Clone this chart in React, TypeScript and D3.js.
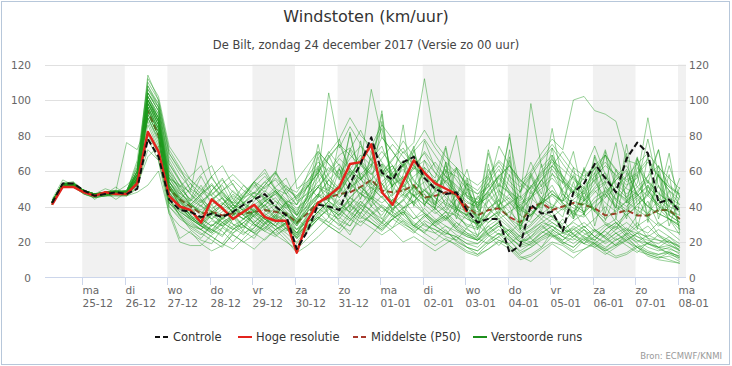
import * as d3 from 'd3';

// tick labels (Dutch weekdays + dates)
const dayNames = ['ma', 'di', 'wo', 'do', 'vr', 'za', 'zo', 'ma', 'di', 'wo', 'do', 'vr', 'za', 'zo', 'ma'];
const dayDates = ['25-12', '26-12', '27-12', '28-12', '29-12', '30-12', '31-12', '01-01', '02-01', '03-01', '04-01', '05-01', '06-01', '07-01', '08-01'];
const yTickValues = [0, 20, 40, 60, 80, 100, 120];
const legendNames = ['Controle', 'Hoge resolutie', 'Middelste (P50)', 'Verstoorde runs'];

// 6-hourly gusts (km/h) from run 24-12 00 UTC, step +6h .. +360h
const controle = [
  42, 53, 53, 49, 46, 47, 48, 47, 50, 78,
  68, 44, 38, 37, 34, 36, 34, 37, 41, 44,
  47, 40, 35, 16, 26, 41, 40, 38, 53, 64,
  79, 59, 55, 65, 68, 56, 50, 47, 48, 38,
  31, 33, 33, 14, 18, 41, 36, 37, 26, 48,
  53, 64, 56, 48, 67, 76, 70, 42, 44, 37,
];

const hogeResolutie = [
  41, 51, 51, 48, 46, 48, 47, 47, 53, 82,
  71, 46, 40, 38, 31, 44, 39, 33, 37, 41,
  34, 32, 32, 14, 32, 42, 46, 51, 64, 65,
  75, 48, 41, 54, 66, 59, 53, 50, 47, 37,
];

const middelste = [
  42, 52, 52, 48, 47, 47, 48, 48, 54, 94,
  80, 50, 44, 40, 36, 37, 35, 36, 36, 37,
  38, 37, 36, 31, 36, 42, 45, 47, 48, 51,
  55, 49, 48, 49, 52, 45, 46, 48, 47, 40,
  35, 38, 39, 34, 31, 39, 42, 38, 40, 42,
  41, 39, 35, 36, 38, 35, 35, 38, 38, 33,
];

const verstoordeRuns = [
  [43, 53, 53, 49, 47, 48, 49, 48, 56, 98, 88, 46, 40, 34, 30, 38, 45, 36, 29, 35, 41, 33, 30, 24, 33, 46, 55, 48, 60, 52, 44, 58, 63, 50, 41, 47, 39, 33, 44, 37, 28, 35, 47, 40, 27, 33, 45, 52, 41, 36, 48, 38, 30, 27, 38, 45, 34, 29, 33, 24],
  [43, 52, 51, 48, 46, 47, 48, 48, 58, 104, 94, 54, 47, 43, 52, 41, 33, 38, 46, 54, 44, 37, 42, 30, 41, 62, 47, 78, 58, 44, 70, 84, 55, 46, 72, 51, 42, 55, 47, 38, 45, 53, 40, 34, 49, 58, 44, 39, 50, 57, 45, 38, 47, 55, 61, 46, 40, 52, 39, 31],
  [41, 51, 52, 47, 45, 46, 47, 46, 52, 92, 80, 42, 35, 27, 22, 30, 26, 20, 27, 36, 31, 24, 28, 19, 26, 33, 40, 31, 24, 36, 45, 33, 28, 37, 30, 25, 32, 26, 21, 28, 34, 24, 18, 25, 31, 22, 17, 26, 33, 24, 19, 27, 23, 18, 25, 31, 22, 17, 21, 15],
  [42, 53, 54, 49, 47, 48, 48, 47, 60, 108, 96, 64, 55, 47, 40, 49, 56, 44, 37, 45, 52, 60, 49, 41, 58, 71, 64, 55, 72, 83, 70, 59, 66, 77, 68, 57, 51, 63, 55, 46, 42, 53, 61, 48, 44, 98, 62, 69, 57, 48, 61, 54, 45, 57, 63, 51, 46, 58, 49, 41],
  [44, 55, 52, 48, 46, 47, 47, 47, 54, 86, 72, 40, 33, 29, 27, 36, 40, 30, 28, 38, 33, 27, 31, 22, 30, 37, 43, 51, 41, 36, 47, 53, 42, 35, 49, 54, 45, 38, 47, 34, 30, 39, 44, 33, 29, 36, 43, 34, 30, 38, 28, 33, 40, 31, 26, 35, 43, 30, 27, 25],
  [42, 52, 53, 48, 46, 48, 49, 49, 62, 100, 90, 56, 51, 44, 57, 46, 38, 43, 52, 45, 40, 49, 42, 36, 52, 60, 68, 75, 61, 55, 67, 74, 58, 51, 63, 70, 59, 50, 46, 56, 40, 48, 58, 52, 45, 51, 60, 67, 55, 47, 60, 74, 58, 44, 51, 68, 47, 41, 63, 45],
  [43, 53, 52, 48, 47, 48, 48, 48, 57, 96, 86, 50, 43, 35, 31, 27, 23, 33, 38, 30, 27, 35, 42, 31, 37, 58, 34, 49, 72, 57, 40, 63, 36, 58, 74, 40, 55, 40, 62, 36, 23, 44, 35, 58, 29, 41, 64, 37, 26, 32, 36, 27, 23, 30, 36, 28, 25, 31, 26, 21],
  [41, 51, 51, 47, 45, 46, 46, 46, 50, 78, 66, 36, 29, 25, 21, 19, 28, 34, 26, 22, 31, 38, 33, 25, 35, 41, 47, 38, 33, 43, 37, 30, 38, 44, 36, 29, 27, 24, 31, 25, 21, 26, 32, 22, 18, 23, 30, 24, 19, 23, 27, 19, 16, 22, 18, 14, 20, 17, 13, 11],
  [42, 52, 52, 48, 46, 47, 48, 48, 55, 102, 92, 58, 49, 41, 35, 44, 48, 39, 46, 52, 43, 40, 50, 45, 53, 61, 52, 47, 58, 66, 59, 50, 57, 65, 54, 49, 55, 45, 40, 37, 35, 70, 49, 42, 37, 45, 50, 56, 49, 43, 41, 48, 53, 43, 38, 62, 54, 45, 70, 35],
  [43, 52, 53, 49, 47, 50, 48, 48, 64, 90, 76, 50, 45, 40, 46, 37, 33, 39, 45, 48, 39, 34, 43, 35, 45, 51, 44, 53, 60, 49, 45, 54, 59, 48, 42, 50, 41, 60, 33, 50, 27, 47, 39, 66, 27, 45, 39, 59, 48, 34, 62, 29, 51, 39, 70, 27, 52, 37, 58, 25],
  [42, 52, 52, 48, 46, 47, 47, 48, 56, 94, 84, 52, 44, 35, 29, 26, 31, 35, 39, 32, 28, 33, 36, 29, 37, 43, 36, 33, 41, 48, 40, 35, 44, 38, 33, 39, 33, 29, 26, 23, 21, 27, 31, 24, 20, 25, 29, 24, 21, 27, 23, 21, 27, 31, 24, 21, 19, 24, 21, 17],
  [43, 53, 53, 49, 47, 47, 48, 49, 58, 106, 98, 70, 60, 53, 47, 57, 63, 52, 45, 54, 59, 49, 43, 41, 48, 57, 104, 73, 85, 75, 66, 79, 71, 62, 71, 78, 69, 60, 57, 50, 47, 55, 63, 54, 48, 57, 66, 73, 64, 56, 51, 59, 65, 57, 50, 47, 57, 63, 52, 47],
  [41, 52, 52, 48, 46, 46, 47, 47, 52, 72, 66, 42, 36, 31, 27, 23, 19, 27, 31, 26, 33, 29, 23, 17, 27, 33, 39, 32, 29, 37, 31, 27, 33, 37, 29, 25, 21, 27, 20, 17, 15, 21, 25, 18, 13, 17, 22, 25, 20, 17, 23, 19, 15, 18, 22, 17, 13, 11, 14, 10],
  [42, 52, 52, 48, 46, 48, 48, 48, 56, 100, 88, 54, 45, 37, 33, 41, 45, 36, 33, 41, 45, 49, 41, 35, 45, 70, 57, 50, 82, 55, 61, 92, 46, 53, 66, 41, 49, 42, 39, 33, 30, 35, 41, 47, 38, 35, 43, 49, 42, 37, 43, 49, 42, 37, 43, 47, 40, 36, 33, 29],
  [43, 53, 52, 48, 47, 47, 48, 47, 54, 98, 86, 48, 41, 33, 29, 37, 31, 27, 33, 37, 41, 35, 31, 27, 33, 41, 47, 40, 37, 45, 51, 45, 39, 43, 51, 43, 39, 65, 37, 53, 29, 64, 39, 72, 27, 49, 37, 63, 57, 33, 51, 37, 71, 33, 59, 35, 69, 33, 49, 27],
  [42, 52, 53, 49, 47, 48, 49, 76, 72, 88, 74, 56, 52, 43, 49, 57, 47, 41, 47, 53, 48, 58, 90, 50, 54, 63, 55, 49, 61, 69, 63, 57, 61, 71, 63, 55, 49, 57, 49, 43, 39, 47, 53, 47, 41, 45, 55, 61, 53, 47, 43, 51, 57, 49, 43, 49, 55, 47, 43, 39],
  [41, 51, 52, 48, 46, 47, 51, 46, 52, 104, 96, 66, 55, 41, 37, 33, 29, 35, 41, 37, 33, 29, 37, 31, 39, 47, 39, 35, 45, 51, 45, 39, 35, 39, 47, 37, 31, 37, 29, 25, 23, 31, 35, 29, 23, 27, 33, 27, 23, 29, 25, 21, 27, 31, 25, 23, 21, 19, 23, 17],
  [43, 53, 53, 49, 47, 48, 48, 48, 60, 114, 100, 72, 62, 49, 43, 37, 41, 49, 43, 37, 43, 47, 39, 33, 43, 51, 59, 67, 61, 55, 63, 71, 63, 55, 61, 71, 63, 57, 51, 45, 41, 49, 57, 49, 43, 51, 59, 65, 57, 51, 47, 55, 72, 53, 47, 53, 78, 51, 45, 41],
  [42, 52, 52, 48, 46, 47, 48, 47, 55, 96, 82, 44, 35, 29, 25, 21, 17, 25, 29, 25, 21, 27, 31, 23, 31, 37, 31, 27, 35, 41, 35, 29, 33, 29, 25, 31, 25, 21, 19, 15, 13, 19, 23, 17, 11, 13, 17, 23, 19, 15, 21, 17, 13, 17, 21, 15, 13, 11, 12, 9],
  [43, 52, 53, 48, 47, 47, 48, 48, 57, 100, 90, 52, 43, 37, 33, 29, 35, 41, 35, 31, 37, 41, 35, 29, 39, 45, 51, 45, 53, 59, 53, 47, 55, 61, 51, 45, 41, 47, 39, 35, 31, 39, 43, 37, 31, 35, 43, 49, 43, 62, 35, 68, 47, 39, 75, 41, 47, 63, 35, 31],
  [42, 52, 52, 48, 46, 48, 48, 48, 56, 102, 92, 60, 49, 41, 47, 53, 45, 39, 35, 43, 49, 43, 39, 45, 51, 59, 71, 63, 57, 67, 75, 65, 57, 63, 69, 59, 53, 59, 80, 45, 41, 49, 57, 63, 53, 47, 55, 63, 55, 49, 45, 53, 69, 51, 45, 51, 57, 72, 43, 39],
  [41, 52, 52, 48, 46, 47, 47, 47, 53, 90, 78, 42, 37, 33, 29, 25, 31, 35, 29, 25, 31, 35, 27, 23, 31, 37, 43, 37, 45, 39, 35, 31, 39, 33, 29, 35, 29, 25, 23, 19, 17, 23, 27, 21, 15, 19, 23, 27, 23, 21, 27, 21, 17, 21, 25, 19, 15, 13, 15, 11],
  [43, 53, 53, 49, 44, 48, 48, 48, 58, 98, 88, 50, 41, 35, 41, 33, 39, 45, 39, 35, 41, 45, 37, 33, 41, 47, 55, 61, 53, 47, 55, 61, 51, 45, 51, 59, 49, 73, 39, 55, 33, 61, 47, 81, 35, 59, 47, 73, 47, 41, 37, 45, 49, 41, 37, 43, 49, 41, 37, 33],
  [42, 52, 52, 48, 46, 47, 48, 48, 56, 94, 82, 46, 39, 33, 29, 27, 33, 37, 33, 29, 35, 39, 33, 27, 35, 41, 47, 51, 45, 41, 49, 53, 45, 39, 43, 49, 43, 37, 35, 29, 27, 33, 37, 31, 25, 29, 35, 31, 27, 31, 27, 23, 29, 33, 27, 25, 23, 27, 23, 19],
  [43, 52, 53, 49, 47, 48, 48, 48, 60, 112, 102, 74, 65, 55, 49, 43, 49, 55, 49, 45, 51, 55, 47, 41, 51, 59, 67, 75, 69, 63, 106, 79, 71, 63, 73, 83, 73, 65, 59, 53, 49, 57, 65, 57, 51, 59, 67, 75, 67, 59, 55, 61, 69, 61, 55, 59, 67, 57, 51, 47],
  [42, 52, 52, 48, 46, 47, 47, 48, 55, 96, 84, 50, 41, 35, 31, 37, 29, 25, 31, 35, 29, 25, 31, 25, 33, 39, 35, 29, 37, 43, 37, 33, 41, 35, 29, 35, 29, 25, 23, 19, 19, 25, 29, 23, 17, 19, 25, 29, 25, 23, 29, 23, 19, 23, 27, 21, 17, 15, 17, 13],
  [41, 51, 51, 47, 45, 46, 46, 46, 48, 52, 60, 36, 20, 18, 18, 24, 28, 24, 20, 24, 28, 24, 20, 16, 22, 28, 34, 30, 26, 32, 28, 24, 28, 32, 26, 22, 18, 22, 18, 14, 12, 16, 20, 16, 10, 12, 16, 20, 18, 14, 16, 20, 16, 12, 14, 18, 14, 12, 10, 8],
  [43, 53, 53, 49, 47, 48, 48, 49, 62, 104, 94, 60, 52, 48, 78, 56, 48, 42, 42, 48, 54, 48, 42, 38, 46, 54, 62, 56, 50, 58, 64, 58, 52, 56, 62, 56, 50, 54, 48, 42, 40, 46, 52, 48, 42, 46, 52, 58, 54, 48, 44, 50, 54, 48, 44, 48, 54, 48, 42, 38],
  [42, 52, 52, 48, 46, 47, 48, 48, 56, 100, 88, 52, 44, 40, 31, 26, 34, 30, 25, 28, 35, 31, 26, 33, 28, 36, 42, 34, 29, 41, 38, 31, 44, 40, 33, 36, 30, 34, 27, 23, 21, 29, 24, 27, 22, 20, 26, 23, 25, 28, 22, 19, 24, 29, 23, 20, 24, 21, 18, 16],
  [43, 52, 53, 48, 47, 48, 48, 52, 58, 98, 86, 54, 46, 41, 38, 43, 39, 35, 42, 46, 38, 33, 41, 37, 45, 68, 43, 61, 48, 77, 47, 64, 51, 86, 45, 62, 38, 44, 36, 33, 30, 36, 41, 45, 39, 34, 42, 46, 40, 35, 42, 38, 33, 38, 43, 38, 34, 39, 33, 30],
  [42, 52, 52, 48, 46, 47, 47, 47, 54, 92, 80, 44, 38, 32, 27, 23, 19, 16, 22, 28, 34, 29, 25, 20, 28, 34, 29, 25, 32, 39, 33, 28, 35, 31, 26, 30, 27, 23, 21, 17, 15, 20, 25, 21, 14, 17, 21, 24, 20, 17, 22, 18, 15, 19, 23, 17, 14, 13, 14, 12],
  [43, 53, 53, 49, 47, 48, 49, 48, 58, 106, 96, 64, 54, 47, 42, 49, 55, 48, 44, 51, 57, 50, 47, 55, 63, 71, 64, 58, 67, 74, 66, 59, 67, 73, 63, 57, 65, 57, 52, 46, 44, 51, 74, 63, 55, 49, 57, 63, 71, 62, 57, 63, 69, 60, 54, 58, 65, 57, 51, 46],
  [42, 52, 52, 48, 46, 47, 48, 48, 56, 100, 90, 56, 48, 41, 37, 33, 37, 41, 38, 34, 39, 43, 36, 32, 38, 46, 43, 38, 45, 51, 46, 42, 47, 53, 46, 41, 36, 40, 34, 30, 28, 33, 38, 42, 35, 31, 36, 40, 34, 54, 35, 59, 32, 48, 33, 67, 31, 58, 29, 46],
  [41, 52, 52, 48, 46, 47, 47, 47, 52, 68, 74, 40, 34, 28, 24, 29, 33, 28, 24, 31, 36, 32, 28, 22, 29, 35, 41, 36, 32, 39, 45, 40, 34, 39, 43, 36, 31, 35, 28, 24, 22, 27, 31, 26, 20, 22, 27, 31, 27, 25, 29, 23, 20, 25, 28, 23, 19, 17, 18, 15],
  [43, 53, 53, 49, 47, 48, 48, 48, 60, 102, 90, 58, 50, 44, 40, 37, 41, 46, 42, 38, 43, 47, 52, 44, 51, 59, 52, 48, 57, 63, 58, 64, 57, 51, 57, 62, 56, 74, 46, 61, 38, 72, 51, 79, 48, 65, 51, 84, 53, 71, 43, 69, 53, 76, 42, 67, 53, 72, 40, 56],
  [42, 52, 52, 48, 46, 47, 48, 48, 56, 96, 84, 48, 40, 34, 30, 35, 31, 27, 31, 37, 33, 29, 35, 30, 37, 43, 39, 35, 41, 47, 43, 37, 41, 47, 41, 36, 32, 37, 31, 27, 24, 29, 33, 28, 23, 26, 31, 29, 25, 27, 31, 26, 22, 27, 31, 26, 22, 21, 20, 18],
  [43, 52, 53, 49, 47, 48, 48, 48, 60, 108, 98, 68, 58, 50, 46, 52, 46, 42, 48, 54, 50, 56, 50, 46, 54, 62, 70, 78, 90, 80, 74, 86, 78, 70, 76, 112, 76, 68, 62, 56, 52, 58, 66, 60, 54, 60, 70, 78, 72, 100, 102, 94, 92, 88, 66, 64, 70, 62, 56, 50],
  [42, 52, 52, 48, 46, 47, 47, 48, 55, 94, 82, 48, 38, 42, 36, 44, 49, 53, 41, 34, 30, 36, 31, 25, 34, 40, 48, 42, 37, 33, 40, 46, 38, 44, 52, 45, 37, 32, 39, 35, 43, 48, 40, 33, 26, 30, 37, 34, 39, 33, 44, 37, 31, 28, 35, 40, 36, 44, 33, 27],
  [43, 53, 53, 49, 47, 48, 48, 48, 58, 100, 88, 54, 44, 50, 58, 63, 49, 41, 38, 45, 52, 59, 47, 35, 40, 47, 44, 51, 57, 66, 55, 48, 43, 50, 46, 41, 48, 56, 62, 50, 39, 33, 37, 43, 38, 45, 55, 47, 42, 36, 34, 40, 45, 51, 57, 64, 49, 40, 37, 33],
  [41, 51, 52, 48, 46, 46, 47, 47, 50, 80, 70, 38, 22, 26, 19, 15, 18, 24, 20, 16, 22, 27, 21, 14, 18, 23, 29, 25, 21, 17, 24, 31, 26, 20, 23, 19, 15, 19, 23, 17, 13, 16, 21, 18, 12, 9, 14, 19, 15, 11, 16, 19, 14, 11, 13, 17, 12, 10, 9, 8],
  [42, 52, 52, 48, 46, 47, 48, 48, 56, 98, 86, 52, 40, 36, 43, 47, 52, 41, 35, 39, 45, 40, 36, 30, 47, 75, 49, 62, 38, 65, 52, 88, 51, 64, 40, 66, 53, 61, 46, 39, 34, 31, 36, 42, 46, 38, 33, 39, 47, 41, 37, 42, 48, 55, 60, 47, 40, 36, 33, 29],
  [43, 53, 53, 49, 47, 48, 48, 49, 60, 104, 94, 62, 51, 57, 63, 48, 42, 37, 46, 54, 61, 50, 44, 39, 44, 51, 58, 64, 53, 47, 44, 52, 59, 66, 55, 47, 41, 37, 44, 48, 42, 45, 56, 47, 40, 35, 41, 47, 43, 49, 56, 63, 51, 44, 40, 46, 52, 44, 38, 35],
  [42, 52, 52, 48, 46, 47, 47, 47, 54, 92, 80, 44, 35, 30, 27, 32, 29, 33, 37, 30, 26, 23, 28, 24, 29, 34, 31, 38, 43, 35, 31, 27, 33, 37, 29, 26, 31, 35, 28, 36, 30, 24, 21, 19, 24, 27, 31, 35, 28, 22, 19, 23, 26, 21, 24, 29, 33, 24, 19, 15],
  [43, 52, 53, 49, 47, 48, 44, 48, 58, 100, 88, 56, 47, 53, 44, 39, 42, 37, 33, 38, 44, 49, 42, 46, 52, 45, 69, 56, 81, 55, 63, 94, 48, 64, 50, 77, 62, 53, 45, 40, 37, 43, 49, 44, 39, 52, 45, 41, 38, 44, 49, 55, 59, 48, 42, 46, 51, 45, 40, 37],
  [42, 52, 52, 48, 46, 47, 48, 48, 56, 96, 84, 50, 42, 37, 33, 29, 34, 39, 35, 30, 26, 31, 36, 27, 31, 37, 43, 39, 33, 29, 36, 41, 37, 32, 28, 34, 39, 33, 27, 24, 21, 25, 30, 26, 20, 23, 28, 33, 29, 24, 21, 26, 30, 25, 21, 25, 29, 23, 20, 17],
  [43, 53, 53, 49, 47, 48, 48, 48, 66, 110, 100, 70, 61, 55, 50, 46, 53, 58, 52, 47, 54, 59, 51, 48, 57, 65, 60, 69, 73, 64, 58, 67, 75, 68, 61, 66, 59, 54, 61, 52, 47, 51, 57, 63, 55, 50, 58, 66, 61, 55, 50, 57, 63, 58, 52, 56, 90, 57, 49, 44],
  [42, 52, 52, 48, 46, 47, 47, 48, 55, 94, 82, 46, 39, 34, 30, 27, 24, 29, 33, 37, 31, 27, 30, 25, 29, 34, 38, 44, 36, 31, 35, 40, 35, 30, 27, 32, 29, 33, 37, 28, 22, 19, 23, 27, 21, 18, 23, 26, 21, 25, 19, 17, 21, 25, 20, 17, 19, 16, 14, 12],
  [43, 52, 53, 48, 47, 48, 48, 48, 58, 102, 90, 54, 45, 41, 47, 52, 44, 39, 42, 48, 45, 51, 56, 43, 47, 52, 49, 45, 51, 55, 50, 59, 63, 52, 46, 49, 45, 41, 38, 35, 46, 39, 33, 37, 41, 35, 42, 47, 43, 58, 48, 62, 36, 61, 45, 58, 35, 60, 35, 51],
  [42, 52, 52, 48, 46, 47, 48, 47, 54, 90, 78, 44, 37, 33, 29, 25, 30, 34, 29, 25, 30, 34, 29, 22, 27, 33, 29, 36, 41, 34, 31, 26, 33, 38, 31, 27, 25, 29, 24, 21, 19, 24, 29, 23, 18, 20, 25, 29, 23, 19, 24, 27, 22, 18, 21, 25, 19, 17, 16, 14],
  [43, 53, 53, 49, 47, 48, 48, 48, 58, 98, 86, 52, 43, 39, 44, 35, 41, 47, 42, 37, 43, 48, 40, 35, 43, 51, 47, 41, 49, 57, 51, 45, 52, 57, 49, 43, 39, 65, 37, 53, 31, 57, 43, 68, 31, 57, 42, 69, 44, 39, 36, 43, 47, 40, 35, 41, 46, 40, 35, 31],
];

const W = 732;
const H = 366;
const plot = { left: 45, right: 686, top: 64.5, bottom: 277.5 };
const font = '"DejaVu Sans", Verdana, sans-serif';

const runStart = new Date(2017, 11, 24, 1); // 00 UTC in local (CET) time
const stepTime = (k: number) => d3.timeHour.offset(runStart, 6 * (k + 1));
const firstDay = new Date(2017, 11, 25);
const dayTicks = dayNames.map((_, i) => d3.timeDay.offset(firstDay, i));

export default function App() {
  const x = d3
    .scaleTime()
    .domain([new Date(2017, 11, 24, 3), new Date(2018, 0, 8, 4, 30)])
    .range([plot.left, plot.right]);
  const y = d3.scaleLinear().domain([0, 120]).range([plot.bottom, plot.top]);
  const line = d3
    .line<number>()
    .x((_, k) => x(stepTime(k)))
    .y((v) => y(v));

  const xEnd = x.domain()[1];
  const bands = dayTicks
    .filter((_, i) => i % 2 === 0)
    .map((d) => {
      const next = d3.timeDay.offset(d, 1);
      return [x(d), x(next > xEnd ? xEnd : next)];
    });

  const legendX = [155, 238, 353, 473];
  const legendY = 337;
  const legendStyles = [
    { stroke: '#111', dash: '5,3' },
    { stroke: '#e3231c', dash: undefined },
    { stroke: '#a8382c', dash: '5,3' },
    { stroke: '#1d8f1d', dash: undefined },
  ];

  return (
    <svg width={W} height={H} style={{ position: 'absolute', left: 0, top: 0, fontFamily: font }}>
      <rect x={0} y={0} width={W} height={H} fill="#fff" />
      <rect x={1.5} y={1.5} width={W - 4} height={H - 3} fill="none" stroke="#b7c7da" />

      <text x={W / 2} y={22} textAnchor="middle" fontSize={16} fill="#333">
        Windstoten (km/uur)
      </text>
      <text x={W / 2} y={49} textAnchor="middle" fontSize={11.5} fill="#444">
        De Bilt, zondag 24 december 2017 (Versie zo 00 uur)
      </text>

      {bands.map(([a, b], i) => (
        <rect key={i} x={a} y={plot.top} width={b - a} height={plot.bottom - plot.top} fill="#f1f1f1" />
      ))}

      {yTickValues.map((v) => (
        <g key={v}>
          {v > 0 && (
            <line x1={plot.left} x2={plot.right} y1={Math.round(y(v)) + 0.5} y2={Math.round(y(v)) + 0.5} stroke="#e0e0e0" />
          )}
          <text x={31} y={y(v) + 4} textAnchor="end" fontSize={10.5} fill="#666">
            {v}
          </text>
          <text x={689} y={y(v) + 4} textAnchor="start" fontSize={10.5} fill="#666">
            {v}
          </text>
        </g>
      ))}

      <g fill="none" strokeLinejoin="round">
        <path d={line(middelste) ?? ''} stroke="#a8382c" strokeWidth={2} strokeDasharray="6,3" />
        {verstoordeRuns.map((run, i) => (
          <path key={i} d={line(run) ?? ''} stroke="#1d991d" strokeOpacity={0.45} strokeWidth={1} />
        ))}
        <path d={line(hogeResolutie) ?? ''} stroke="#e3231c" strokeWidth={2.5} />
        <path d={line(controle) ?? ''} stroke="#111" strokeWidth={2} strokeDasharray="6,3" />
      </g>

      <line x1={plot.left} x2={plot.right} y1={277.5} y2={277.5} stroke="#ccd6eb" />
      {dayTicks.map((d, i) => (
        <g key={i} transform={`translate(${Math.round(x(d)) + 0.5},0)`}>
          <line y1={277.5} y2={285} stroke="#ccd6eb" />
          <text x={0} y={294} fontSize={10.5} fill="#666">
            {dayNames[i]}
          </text>
          <text x={0} y={307} fontSize={10.5} fill="#666">
            {dayDates[i]}
          </text>
        </g>
      ))}

      {legendNames.map((name, i) => (
        <g key={name}>
          <line
            x1={legendX[i]}
            x2={legendX[i] + 14}
            y1={legendY}
            y2={legendY}
            stroke={legendStyles[i].stroke}
            strokeWidth={2}
            strokeDasharray={legendStyles[i].dash}
          />
          <text x={legendX[i] + 18} y={legendY + 4} fontSize={11.5} fill="#333">
            {name}
          </text>
        </g>
      ))}

      <text x={722} y={359} textAnchor="end" fontSize={8.5} fill="#999">
        Bron: ECMWF/KNMI
      </text>
    </svg>
  );
}
